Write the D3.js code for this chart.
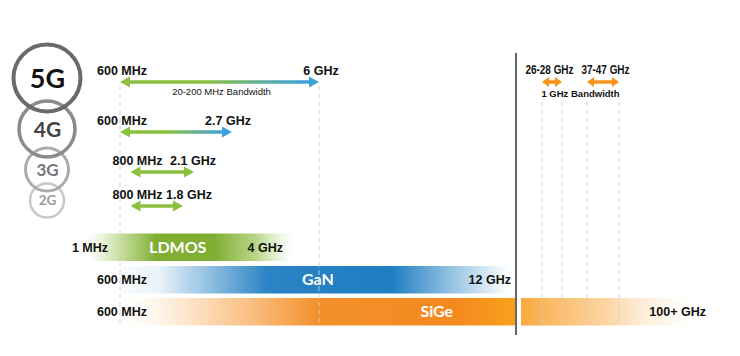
<!DOCTYPE html>
<html><head><meta charset="utf-8">
<script src="https://cdn.jsdelivr.net/npm/d3@7"></script>
<style>html,body{margin:0;padding:0;background:#fff;}svg{display:block;}</style>
</head><body>
<svg id="chart" width="740" height="356"></svg>
<script>
// ---------- DATA ----------
const generations = ["5G", "4G", "3G", "2G"];
const bandStartGHz = [0.6, 0.6, 0.8, 0.8];
const bandEndGHz = [6, 2.7, 2.1, 1.8];
const bandStartLabels = ["600 MHz", "600 MHz", "800 MHz", "800 MHz"];
const bandEndLabels = ["6 GHz", "2.7 GHz", "2.1 GHz", "1.8 GHz"];
const sub6BandwidthLabel = "20-200 MHz Bandwidth";

const mmwStartGHz = [26, 37];
const mmwEndGHz = [28, 47];
const mmwLabels = ["26-28 GHz", "37-47 GHz"];
const mmwBandwidthLabel = "1 GHz Bandwidth";

const technologies = ["LDMOS", "GaN", "SiGe"];
const techMinGHz = [0.001, 0.6, 0.6];
const techMaxGHz = [4, 12, 100];
const techMinLabels = ["1 MHz", "600 MHz", "600 MHz"];
const techMaxLabels = ["4 GHz", "12 GHz", "100+ GHz"];

const guideGHz = [0.6, 6, 26, 28, 37, 47];
const axisBreakGHz = 20;

// ---------- LAYOUT ----------
const svg = d3.select("#chart");
// schematic (piecewise) frequency scale
const x = d3.scaleLinear()
  .domain([0.001, 0.6, 1.8, 2.1, 2.7, 4, 6, 12, 20, 26, 28, 37, 47, 100])
  .range([88, 120, 183, 194, 232, 290, 319, 508, 516, 542, 562, 587, 619, 692]);

const rowY = d3.scaleOrdinal().domain(generations).range([82, 132, 172, 206]);
const circ = {
  cy: d3.scaleOrdinal().domain(generations).range([78, 129, 169.5, 200.5]),
  r: d3.scaleOrdinal().domain(generations).range([33.5, 28, 21.5, 17]),
  sw: d3.scaleOrdinal().domain(generations).range([4, 3.5, 3, 2.5]),
  stroke: d3.scaleOrdinal().domain(generations).range(["#6a6a6a", "#8c8c8c", "#ababab", "#c8c8c8"]),
  text: d3.scaleOrdinal().domain(generations).range(["#111", "#444", "#777", "#9a9a9a"]),
  fs: d3.scaleOrdinal().domain(generations).range([27, 21, 17, 13.5])
};
const startDx = [2, 2, 7, 7];
const endDx = [2, -4, -1, 6];

const barY = d3.scaleOrdinal().domain(technologies).range([233.5, 266, 298]);
const barH = 27.5;
const nameFrac = [0.44, 0.51, 0.8];

const GREEN = "#8CC03F", BLUE = "#3DA1DC", ORANGE = "#F7941D";
const labelFont = "'Liberation Sans', Arial, Helvetica, sans-serif";
const titleFont = "Lato, 'Open Sans', sans-serif";

const defs = svg.append("defs");
function grad(id, x1, x2, stops) {
  const g = defs.append("linearGradient").attr("id", id)
    .attr("gradientUnits", "userSpaceOnUse")
    .attr("x1", x1).attr("x2", x2).attr("y1", 0).attr("y2", 0);
  stops.forEach(s => g.append("stop").attr("offset", s[0]).attr("stop-color", s[1]).attr("stop-opacity", s[2]));
  return "url(#" + id + ")";
}

function arrowPath(x1, x2, y, h, w, t) {
  return `M${x1},${y}L${x1 + h},${y - w}L${x1 + h},${y - t}L${x2 - h},${y - t}L${x2 - h},${y - w}L${x2},${y}` +
    `L${x2 - h},${y + w}L${x2 - h},${y + t}L${x1 + h},${y + t}L${x1 + h},${y + w}Z`;
}

// ---------- TECHNOLOGY BARS ----------
const xb = x(axisBreakGHz);
technologies.forEach((t, i) => {
  const y0 = barY(t);
  const x0 = x(techMinGHz[i]);
  let x1 = Math.min(x(techMaxGHz[i]), xb);
  let fill;
  if (t === "LDMOS") {
    x1 = x(techMaxGHz[i]) + 2;
    fill = grad("gL", x0, x1, [[0, "#b7d47f", 0], [0.18, "#a9cc6c", 0.75], [0.33, "#7fae33", 1], [0.62, "#7fae33", 1], [0.82, "#a5c966", 0.8], [1, "#c5de9c", 0]]);
  } else if (t === "GaN") {
    x1 = x(techMaxGHz[i]);
    fill = grad("gG", x0, x1, [[0, "#2280c4", 0.03], [0.1, "#2280c4", 0.1], [0.38, "#1f7dc2", 0.95], [0.7, "#1f7dc2", 1], [1, "#2a85c6", 0]]);
  } else {
    fill = grad("gS", x0, x1, [[0, "#f7a23e", 0], [0.07, "#f7a23e", 0.06], [0.5, "#f28a20", 0.95], [0.85, "#f4891f", 1], [1, "#f9a11d", 1]]);
  }
  svg.append("rect").attr("x", x0).attr("y", y0).attr("width", x1 - x0).attr("height", barH).attr("fill", fill);
  if (t === "SiGe") {
    const x2 = xb + 5, x3 = x(techMaxGHz[i]);
    svg.append("rect").attr("x", x2).attr("y", y0).attr("width", x3 - x2).attr("height", barH)
      .attr("fill", grad("gS2", x2, x3, [[0, "#f8a02a", 0.9], [0.5, "#f9ab48", 0.5], [0.85, "#fbc27c", 0.12], [1, "#fcd5a0", 0]]));
  }
  // name
  const xn = x0 + nameFrac[i] * ((t === "SiGe" ? xb : x1) - x0);
  svg.append("text").attr("x", xn).attr("y", y0 + barH / 2 + 5.5)
    .attr("text-anchor", "middle").attr("fill", "#fff")
    .style("font-family", titleFont).style("font-weight", 700).style("font-size", "16px").text(t);
});

// ---------- GUIDES ----------
guideGHz.forEach(f => {
  const mm = f > axisBreakGHz;
  svg.append("line").attr("x1", x(f)).attr("x2", x(f))
    .attr("y1", mm ? 102 : 86).attr("y2", 326)
    .attr("stroke", "#cfcfcf").attr("stroke-opacity", 0.85).attr("stroke-width", 1).attr("stroke-dasharray", "5,3");
});

// bar end labels (over bars)
technologies.forEach((t, i) => {
  const y0 = barY(t) + barH / 2 + 4.5;
  const minRight = t === "LDMOS" ? 108 : 147;
  svg.append("text").attr("x", minRight).attr("y", y0).attr("text-anchor", "end")
    .attr("fill", "#111").style("font-family", labelFont).style("font-weight", 700).style("font-size", "12.5px")
    .text(techMinLabels[i]);
  const maxRight = x(techMaxGHz[i]) + (t === "LDMOS" ? -7 : (t === "GaN" ? 3 : 14));
  svg.append("text").attr("x", maxRight).attr("y", y0).attr("text-anchor", "end")
    .attr("fill", "#111").style("font-family", labelFont).style("font-weight", 700).style("font-size", "12.5px")
    .text(techMaxLabels[i]);
});

// break line
svg.append("line").attr("x1", xb).attr("x2", xb).attr("y1", 53).attr("y2", 335)
  .attr("stroke", "#666").attr("stroke-width", 2);

// ---------- GENERATION CIRCLES ----------
generations.slice().reverse().forEach(g => {
  svg.append("circle").attr("cx", 47).attr("cy", circ.cy(g)).attr("r", circ.r(g))
    .attr("fill", "none").attr("stroke", circ.stroke(g)).attr("stroke-width", circ.sw(g));
});
generations.forEach(g => {
  svg.append("text").attr("x", 47.5).attr("y", circ.cy(g) + circ.fs(g) * 0.36)
    .attr("text-anchor", "middle").attr("fill", circ.text(g))
    .style("font-family", titleFont).style("font-weight", 700).style("font-size", circ.fs(g) + "px").text(g);
});

// ---------- BAND ARROWS ----------
generations.forEach((g, i) => {
  const x1 = x(bandStartGHz[i]), x2 = x(bandEndGHz[i]), y = rowY(g);
  let fill = GREEN;
  if (i < 2) fill = grad("ga" + i, x1, x2, [[0, GREEN, 1], [0.42, GREEN, 1], [0.93, BLUE, 1], [1, BLUE, 1]]);
  svg.append("path").attr("d", arrowPath(x1, x2, y, 10, 5.5, 1.7)).attr("fill", fill);
  svg.append("text").attr("x", x1 + startDx[i]).attr("y", y - 7.5).attr("text-anchor", "middle")
    .attr("fill", "#111").style("font-family", labelFont).style("font-weight", 700).style("font-size", "12.5px")
    .text(bandStartLabels[i]);
  svg.append("text").attr("x", x2 + endDx[i]).attr("y", y - 7.5).attr("text-anchor", "middle")
    .attr("fill", "#111").style("font-family", labelFont).style("font-weight", 700).style("font-size", "12.5px")
    .text(bandEndLabels[i]);
});
svg.append("text").attr("x", (x(bandStartGHz[0]) + x(bandEndGHz[0])) / 2 + 2).attr("y", 95)
  .attr("text-anchor", "middle").attr("fill", "#111")
  .style("font-family", labelFont).style("font-size", "9.5px").text(sub6BandwidthLabel);

// ---------- mmWave ----------
mmwLabels.forEach((l, i) => {
  const x1 = x(mmwStartGHz[i]), x2 = x(mmwEndGHz[i]);
  svg.append("path").attr("d", arrowPath(x1, x2, 82, 7, 5, 1.7)).attr("fill", ORANGE);
  svg.append("text").attr("x", (x1 + x2) / 2 + (i === 0 ? -2.5 : 2.5)).attr("y", 74).attr("text-anchor", "middle")
    .attr("textLength", 48).attr("lengthAdjust", "spacingAndGlyphs")
    .attr("fill", "#111").style("font-family", labelFont)
    .style("font-weight", 700).style("font-size", "12px").text(l);
});
svg.append("text").attr("x", (x(mmwStartGHz[0]) + x(mmwEndGHz[1])) / 2).attr("y", 97)
  .attr("text-anchor", "middle").attr("fill", "#111")
  .style("font-family", labelFont).style("font-weight", 700).style("font-size", "9.5px").text(mmwBandwidthLabel);
</script>
</body></html>
